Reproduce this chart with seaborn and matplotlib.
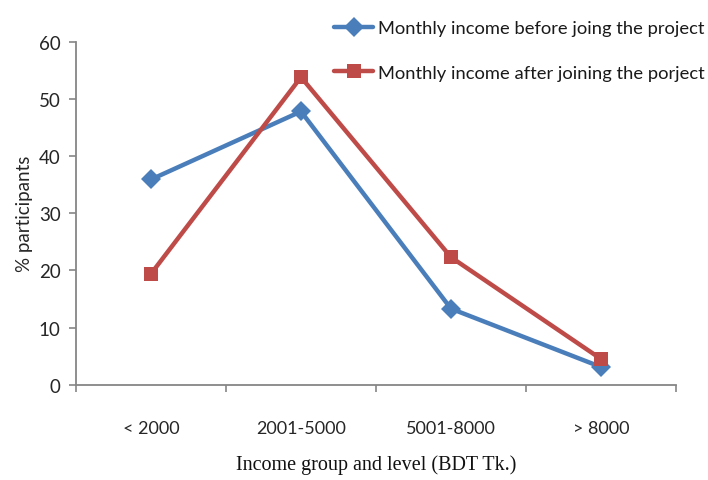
import matplotlib
matplotlib.use("Agg")
import matplotlib.pyplot as plt
from matplotlib.ticker import FixedLocator
import seaborn as sns
import pandas as pd

categories = ["< 2000", "2001-5000", "5001-8000", "> 8000"]
before = [35.9, 47.8, 13.3, 3.1]
after = [19.4, 53.8, 22.3, 4.5]
series_names = ["Monthly income before joing the project",
                "Monthly income after joining the porject"]
y_ticks = [0, 10, 20, 30, 40, 50, 60]

df = pd.DataFrame({
    "group": categories * 2,
    "value": before + after,
    "series": [series_names[0]] * 4 + [series_names[1]] * 4,
})

sns.set_style("white")
plt.rcParams["font.family"] = ["Lato", "DejaVu Sans"]

fig = plt.figure(figsize=(7.08, 4.81), dpi=100)
ax = fig.add_axes([0.1073, 0.1981, 0.8475, 0.7131])

palette = {series_names[0]: "#4A7EBB", series_names[1]: "#BE4B48"}
markers = {series_names[0]: "D", series_names[1]: "s"}
sns.lineplot(data=df, x="group", y="value", hue="series", style="series",
             palette=palette, markers=markers, dashes=False, sort=False,
             linewidth=3.2, markersize=10.5, markeredgewidth=0, ax=ax)

ax.set_xlim(-0.5, 3.5)
ax.set_ylim(0, 60)
ax.set_yticks(y_ticks)
ax.set_xticks(range(len(categories)))
ax.set_xticklabels(categories)
ax.xaxis.set_minor_locator(FixedLocator([-0.5, 0.5, 1.5, 2.5, 3.5]))

for side in ("top", "right"):
    ax.spines[side].set_visible(False)
for side in ("left", "bottom"):
    ax.spines[side].set_color("#868686")
    ax.spines[side].set_linewidth(1.3)

ax.tick_params(axis="y", which="major", left=True, length=5, width=1.2,
               color="#868686", labelsize=13.5, labelcolor="#262626", pad=6)
ax.tick_params(axis="x", which="major", bottom=False, labelsize=13,
               labelcolor="#262626", pad=22)
ax.tick_params(axis="x", which="minor", bottom=True, length=5, width=1.2,
               color="#868686")

ax.set_ylabel("% participants", fontsize=13.5, color="#262626", labelpad=4)
ax.set_xlabel("Income group and level (BDT Tk.)", fontsize=14.5,
              family=["Liberation Serif"], color="#111111", labelpad=13)

ax.get_legend().remove()
handles, labels = ax.get_legend_handles_labels()
fig.legend(handles, labels, loc="upper left", bbox_to_anchor=(0.449, 0.99),
           frameon=False, fontsize=13.2, handlelength=2.1, handletextpad=0.28,
           labelspacing=1.55, labelcolor="#1a1a1a")

fig.savefig("out.png", dpi=100)
